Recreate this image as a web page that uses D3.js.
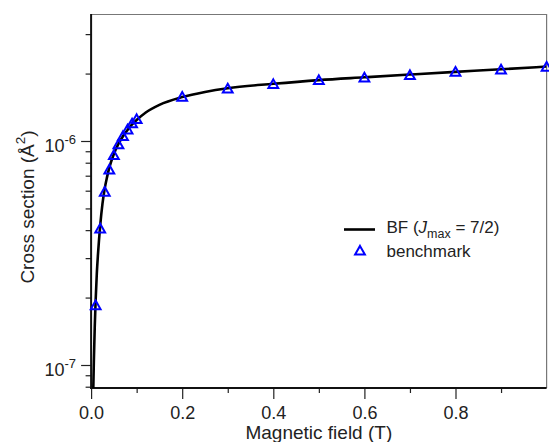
<!DOCTYPE html>
<html><head><meta charset="utf-8">
<script src="https://cdn.jsdelivr.net/npm/d3@7"></script>
<style>body{margin:0;background:#fff}svg{display:block}text{font-family:"Liberation Sans",Arial,Helvetica,sans-serif;fill:#222}</style>
</head><body>
<script>
// ---- data ----
const benchField = [0.01,0.02,0.03,0.04,0.05,0.06,0.07,0.08,0.09,0.10,0.2,0.3,0.4,0.5,0.6,0.7,0.8,0.9,1.0];
const benchSigma = [1.85e-7,4.07e-7,5.94e-7,7.47e-7,8.66e-7,9.67e-7,1.053e-6,1.128e-6,1.2e-6,1.254e-6,1.577e-6,1.718e-6,1.797e-6,1.872e-6,1.925e-6,1.971e-6,2.04e-6,2.09e-6,2.15e-6];
const bfField = [0.004,0.005,0.006,0.008,0.010,0.0125,0.015,0.0175,0.020,0.025,0.030,0.035,0.040,0.050,0.060,0.070,0.080,0.090,0.100,0.120,0.150,0.200,0.250,0.300,0.400,0.500,0.600,0.700,0.800,0.900,1.000];
const bfSigma = [6.4e-8,8.2e-8,1.03e-7,1.48e-7,1.95e-7,2.55e-7,3.1e-7,3.65e-7,4.2e-7,5.25e-7,6.15e-7,6.9e-7,7.6e-7,8.75e-7,9.7e-7,1.05e-6,1.12e-6,1.185e-6,1.24e-6,1.34e-6,1.45e-6,1.57e-6,1.655e-6,1.72e-6,1.80e-6,1.87e-6,1.925e-6,1.98e-6,2.035e-6,2.09e-6,2.15e-6];
const xMajorTicks = [0,0.2,0.4,0.6,0.8];
const xMinorTicks = [0.1,0.3,0.5,0.7,0.9];
const yMajorTicks = [1e-7,1e-6];
const yMajorLabels = [["10","-7"],["10","-6"]];
const yMinorTicks = [8e-8,9e-8,2e-7,3e-7,4e-7,5e-7,6e-7,7e-7,8e-7,9e-7,2e-6,3e-6];

// ---- layout ----
const W=549,H=442;
const L=91.1,R=546.6,T=14,B=388;
const svg=d3.select("body").append("svg").attr("width",W).attr("height",H);
const x=d3.scaleLinear().domain([0,1.0]).range([L,R]);
const y=d3.scaleLog().domain([Math.pow(10,-7-23/224),Math.pow(10,-6+127/224)]).range([B,T]);

svg.append("defs").append("clipPath").attr("id","clip").append("rect")
  .attr("x",L).attr("y",T).attr("width",R-L).attr("height",B-T);

// frame top/right
svg.append("line").attr("x1",L).attr("x2",R).attr("y1",T+0.5).attr("y2",T+0.5).attr("stroke","#777").attr("stroke-width",1.2);
svg.append("line").attr("x1",R).attr("x2",R).attr("y1",T).attr("y2",B).attr("stroke","#777").attr("stroke-width",1.2);

// x axis
const xAxisMaj=d3.axisBottom(x).tickValues(xMajorTicks).tickSize(11).tickFormat(d3.format(".1f"));
const gx=svg.append("g").attr("transform",`translate(0,${B})`).call(xAxisMaj);
gx.select(".domain").remove();
gx.selectAll(".tick line").attr("stroke","#222").attr("stroke-width",1.2);
gx.selectAll(".tick text").attr("font-size",18).attr("dy","1.0em").attr("y",13).style("fill","#222");
const gxm=svg.append("g").attr("transform",`translate(0,${B})`).call(d3.axisBottom(x).tickValues(xMinorTicks).tickSize(5).tickFormat(""));
gxm.select(".domain").remove();
gxm.selectAll(".tick line").attr("stroke","#222").attr("stroke-width",1.2);
svg.append("line").attr("x1",L-1).attr("x2",R).attr("y1",B).attr("y2",B).attr("stroke","#111").attr("stroke-width",2);

// y axis
const gy=svg.append("g").attr("transform",`translate(${L},0)`).call(d3.axisLeft(y).tickValues(yMajorTicks).tickSize(10).tickFormat(""));
gy.select(".domain").remove();
gy.selectAll(".tick line").attr("stroke","#222").attr("stroke-width",1.2);
const gym=svg.append("g").attr("transform",`translate(${L},0)`).call(d3.axisLeft(y).tickValues(yMinorTicks).tickSize(5.5).tickFormat(""));
gym.select(".domain").remove();
gym.selectAll(".tick line").attr("stroke","#222").attr("stroke-width",1.2);
svg.append("line").attr("x1",L).attr("x2",L).attr("y1",T).attr("y2",B+1).attr("stroke","#111").attr("stroke-width",2);

yMajorTicks.forEach((v,i)=>{
  const t=svg.append("text").attr("x",76).attr("y",y(v)+10.5).attr("text-anchor","end").attr("font-size",18);
  t.append("tspan").text(yMajorLabels[i][0]);
  t.append("tspan").attr("dy",-8).attr("font-size",13).text(yMajorLabels[i][1]);
});

// axis titles
svg.append("text").attr("x",(L+R)/2).attr("y",439).attr("text-anchor","middle").attr("font-size",19).text("Magnetic field (T)");
const yl=svg.append("text").attr("transform",`translate(33.5,${(T+B)/2+6}) rotate(-90)`).attr("text-anchor","middle").attr("font-size",19);
yl.append("tspan").text("Cross section (Å");
yl.append("tspan").attr("dy",-8.5).attr("font-size",13.5).text("2");
yl.append("tspan").attr("dy",8.5).text(")");

// curve
const line=d3.line().x((d,i)=>x(bfField[i])).y((d,i)=>y(bfSigma[i])).curve(d3.curveMonotoneX);
svg.append("path").attr("clip-path","url(#clip)").attr("d",line(bfField)).attr("fill","none").attr("stroke","#000").attr("stroke-width",2.6);

// markers
const tri="M0,-4.6L4.9,4.1L-4.9,4.1Z";
svg.append("g").selectAll("path").data(benchField).join("path")
  .attr("transform",(d,i)=>`translate(${x(d)},${y(benchSigma[i])})`)
  .attr("d",tri).attr("fill","none").attr("stroke","#0000ff").attr("stroke-width",2);

// legend
svg.append("line").attr("x1",344).attr("x2",375).attr("y1",229.5).attr("y2",229.5).attr("stroke","#000").attr("stroke-width",2.6);
const lt=svg.append("text").attr("x",386.5).attr("y",233).attr("font-size",17);
lt.append("tspan").text("BF (");
lt.append("tspan").attr("font-style","italic").text("J");
lt.append("tspan").attr("dy",5).attr("font-size",12.5).text("max");
lt.append("tspan").attr("dy",-5).text(" = 7/2)");
svg.append("path").attr("transform","translate(360,250.5)").attr("d",tri).attr("fill","none").attr("stroke","#0000ff").attr("stroke-width",2);
svg.append("text").attr("x",386.5).attr("y",256.5).attr("font-size",17).text("benchmark");
</script>
</body></html>
